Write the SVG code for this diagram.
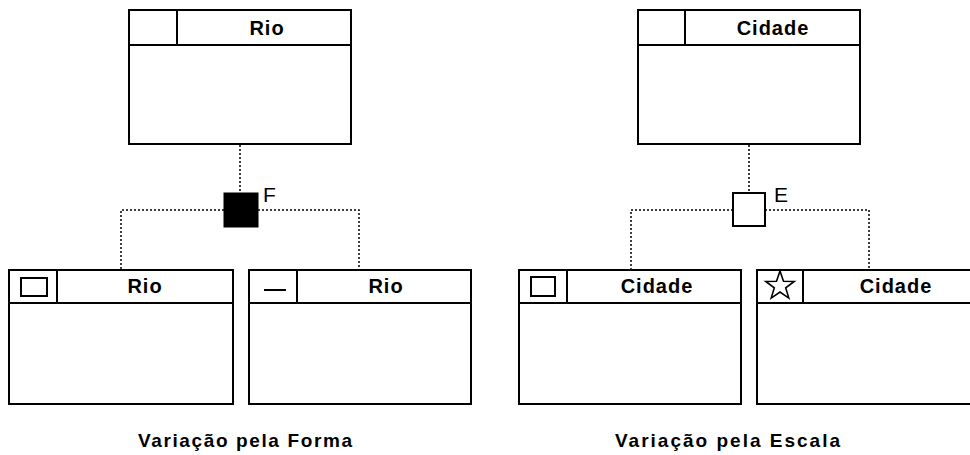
<svg xmlns="http://www.w3.org/2000/svg" width="970" height="455" viewBox="0 0 970 455">
  <style>
    .box { fill: #ffffff; stroke: #000000; stroke-width: 2; }
    .ln { stroke: #000000; stroke-width: 2; fill: none; }
    .hdr { font-family: "Liberation Sans", Arial, sans-serif; font-weight: bold; font-size: 20px; letter-spacing: 1px; text-anchor: middle; fill: #000000; }
    .lbl { font-family: "Liberation Sans", Arial, sans-serif; font-size: 21px; fill: #000000; }
    .cap { font-family: "Liberation Sans", Arial, sans-serif; font-weight: bold; font-size: 19px; fill: #000000; }
    .dot { stroke: #000000; stroke-width: 1.5; stroke-dasharray: 2 2; fill: none; }
  </style>
  <rect width="970" height="455" fill="#ffffff"/>

  <g id="connectors">
    <path class="dot" d="M240,145 V193 M224,210 H121 V270 M258,210 H359 V270"/>
    <path class="dot" d="M749,145 V193 M733,210 H631 V270 M765,210 H869 V270"/>
  </g>

  <g id="rio-top">
    <rect class="box" x="129" y="10" width="222" height="134"/>
    <path class="ln" d="M129,45 H351 M177,10 V45"/>
    <text class="hdr" x="267" y="35">Rio</text>
  </g>

  <g id="gen-F">
    <rect x="224" y="193" width="34" height="34" fill="#000000" stroke="#000000" stroke-width="1"/>
    <text class="lbl" x="263" y="202">F</text>
  </g>

  <g id="rio-area">
    <rect class="box" x="9" y="270" width="224" height="134"/>
    <path class="ln" d="M9,303 H233 M57,270 V303"/>
    <rect class="ln" x="21" y="278" width="26" height="18"/>
    <text class="hdr" x="145" y="293">Rio</text>
  </g>

  <g id="rio-line">
    <rect class="box" x="249" y="270" width="222" height="134"/>
    <path class="ln" d="M249,303 H471 M297,270 V303"/>
    <path class="ln" d="M264,290 H286"/>
    <text class="hdr" x="386" y="293">Rio</text>
  </g>

  <g id="cidade-top">
    <rect class="box" x="638" y="10" width="222" height="134"/>
    <path class="ln" d="M638,45 H860 M685,10 V45"/>
    <text class="hdr" x="773" y="35">Cidade</text>
  </g>

  <g id="gen-E">
    <rect class="box" x="733" y="193" width="32" height="33"/>
    <text class="lbl" x="774" y="202">E</text>
  </g>

  <g id="cidade-area">
    <rect class="box" x="519" y="270" width="222" height="134"/>
    <path class="ln" d="M519,303 H741 M567,270 V303"/>
    <rect class="ln" x="531" y="277" width="24" height="19"/>
    <text class="hdr" x="657" y="293">Cidade</text>
  </g>

  <g id="cidade-point">
    <rect class="box" x="757" y="270" width="222" height="134"/>
    <path class="ln" d="M757,303 H979 M803,270 V303"/>
    <polygon points="780,271 783.5,281.2 794.3,281.4 785.7,287.9 788.8,298.1 780,292 771.2,298.1 774.3,287.9 765.7,281.4 776.5,281.2" fill="none" stroke="#000000" stroke-width="1.6" stroke-linejoin="miter"/>
    <text class="hdr" x="896" y="293">Cidade</text>
  </g>

  <g id="captions">
    <text class="cap" x="138" y="447" textLength="214" lengthAdjust="spacing">Variação pela Forma</text>
    <text class="cap" x="615" y="447" textLength="225" lengthAdjust="spacing">Variação pela Escala</text>
  </g>
</svg>
